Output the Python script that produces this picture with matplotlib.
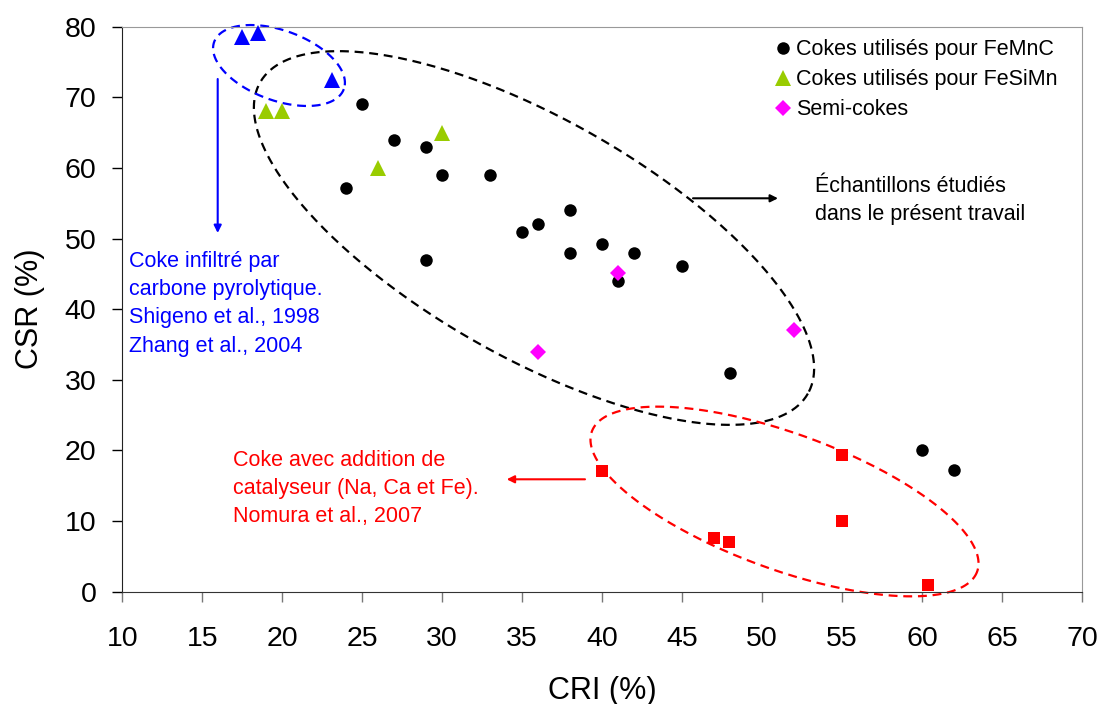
import numpy as np
import matplotlib
matplotlib.use('Agg')
import matplotlib.pyplot as plt
from matplotlib.lines import Line2D

plt.rcParams['font.family'] = ['Liberation Sans', 'DejaVu Sans']

# CRI / CSR data
femnc_cri = [25, 27, 29, 24, 30, 33, 35, 36, 38, 38, 40, 42, 41, 45, 29, 48, 60, 62]
femnc_csr = [69, 64, 63, 57.2, 59, 59, 51, 52, 54.1, 48, 49.2, 48, 44, 46.1, 47, 31, 20.1, 17.2]

fesimn_cri = [19, 20, 26, 30]
fesimn_csr = [68, 68, 60, 65]

semi_cri = [41, 36, 52]
semi_csr = [45.1, 34, 37]

shigeno_cri = [17.5, 18.5, 23.1]
shigeno_csr = [78.5, 79.1, 72.5]

nomura_cri = [40, 55, 55, 47, 47.9, 60.4]
nomura_csr = [17.1, 19.4, 10, 7.6, 7.1, 1]

legend_labels = ['Cokes utilisés pour FeMnC', 'Cokes utilisés pour FeSiMn', 'Semi-cokes']

green = '#99CC00'
magenta = '#FF00FF'
blue = '#0000FF'
red = '#FF0000'

W, H, dpi = 1105, 704, 100
fig = plt.figure(figsize=(W / dpi, H / dpi), dpi=dpi)
# axes box in pixels
x0, x1, y0, y1 = 122.3, 1082, 26.7, 591.7
ax = fig.add_axes([x0 / W, 1 - y1 / H, (x1 - x0) / W, (y1 - y0) / H])

xmin, xmax, ymin, ymax = 10, 70, 0, 80
ax.set_xlim(xmin, xmax)
ax.set_ylim(ymin, ymax)
sx = (x1 - x0) / (xmax - xmin)
sy = (y1 - y0) / (ymax - ymin)


def px2data(px, py):
    return xmin + (px - x0) / sx, ymax - (py - y0) / sy


def dashed_ellipse(cx, cy, a, b, angle, color):
    # ellipse is defined in screen pixels so the tilt is not sheared by the axis scales
    t = np.linspace(0, 2 * np.pi, 400)
    th = np.radians(angle)
    ex = a * np.cos(t)
    ey = b * np.sin(t)
    px = cx + ex * np.cos(th) - ey * np.sin(th)
    py = cy + ex * np.sin(th) + ey * np.cos(th)
    dx, dy = px2data(px, py)
    ax.plot(dx, dy, color=color, lw=1.6, dashes=(4, 2.6), clip_on=False, zorder=2)


dashed_ellipse(534, 238, 315, 119, 29.6, 'black')
dashed_ellipse(279, 65.5, 69, 35, 20, blue)
dashed_ellipse(784.5, 501.5, 205, 68, 20, red)

ms = 100 / 72.
ax.plot(femnc_cri, femnc_csr, 'o', color='black', ms=12.5 / ms, mew=0, zorder=4, clip_on=False)
ax.plot(fesimn_cri, fesimn_csr, '^', color=green, ms=15.5 / ms, mew=0, zorder=4, clip_on=False)
ax.plot(semi_cri, semi_csr, 'D', color=magenta, ms=12 / ms, mew=0, zorder=5, clip_on=False)
ax.plot(shigeno_cri, shigeno_csr, '^', color=blue, ms=15.5 / ms, mew=0, zorder=4, clip_on=False)
ax.plot(nomura_cri, nomura_csr, 's', color=red, ms=12.7 / ms, mew=0, zorder=4, clip_on=False)

# arrows pointing from the groups to their captions
arrow = dict(arrowstyle='-|>', lw=1.5, mutation_scale=11, shrinkA=0, shrinkB=0)
ax.annotate('', xy=px2data(778, 198.3), xytext=px2data(693, 198.3),
            arrowprops=dict(arrow, color='black'))
ax.annotate('', xy=px2data(217.7, 233), xytext=px2data(217.7, 79),
            arrowprops=dict(arrow, color=blue))
ax.annotate('', xy=px2data(506.7, 479.3), xytext=px2data(585, 479.3),
            arrowprops=dict(arrow, color=red))

fs = 15.5
ls = 1.45
ax.text(*px2data(815, 176), 'Échantillons étudiés\ndans le présent travail',
        fontsize=fs, color='black', va='top', ha='left', linespacing=ls)
ax.text(*px2data(129, 251), 'Coke infiltré par\ncarbone pyrolytique.\nShigeno et al., 1998\nZhang et al., 2004',
        fontsize=fs, color=blue, va='top', ha='left', linespacing=ls)
ax.text(*px2data(232.7, 450), 'Coke avec addition de\ncatalyseur (Na, Ca et Fe).\nNomura et al., 2007',
        fontsize=fs, color=red, va='top', ha='left', linespacing=ls)

handles = [
    Line2D([], [], ls='none', marker='o', color='black', ms=12.5 / ms, mew=0),
    Line2D([], [], ls='none', marker='^', color=green, ms=15.5 / ms, mew=0),
    Line2D([], [], ls='none', marker='D', color=magenta, ms=12 / ms, mew=0),
]
ax.legend(handles, legend_labels, loc='upper left', bbox_to_anchor=(0.678, 0.978),
          frameon=False, fontsize=fs, handlelength=0.9, handletextpad=0.15,
          borderpad=0, borderaxespad=0, labelspacing=0.42)

ax.set_xticks(np.arange(10, 71, 5))
ax.set_yticks(np.arange(0, 81, 10))
ax.tick_params(axis='both', direction='out', length=7, width=1, labelsize=20.5)
ax.tick_params(axis='y', pad=11.5)
ax.tick_params(axis='x', colors='#777777', labelcolor='black', pad=18)
ax.set_xlabel('CRI (%)', fontsize=22, labelpad=17)
ax.set_ylabel('CSR (%)', fontsize=22, labelpad=14)

for side in ['top', 'right']:
    ax.spines[side].set_color('#999999')
ax.spines['bottom'].set_color('#333333')
ax.spines['left'].set_color('#222222')

fig.savefig('out.png', dpi=dpi)
